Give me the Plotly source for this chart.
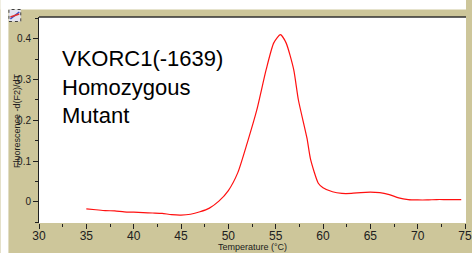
import plotly.graph_objects as go

# Data
temperature = [35, 36, 37, 38, 39, 40, 41, 42, 43, 44, 45, 46, 47, 48, 49, 50,
               51, 52, 53, 54, 54.8, 55.5, 56.1, 56.9, 57.4, 58.3, 58.7, 59.5,
               60, 61, 62, 63, 64, 65, 66, 67, 68, 69, 70, 71, 72, 73, 74, 74.6]
fluorescence = [-0.017, -0.019, -0.021, -0.022, -0.024, -0.025, -0.026, -0.027,
                -0.028, -0.031, -0.032, -0.030, -0.024, -0.015, 0.002, 0.028,
                0.072, 0.145, 0.225, 0.325, 0.39, 0.41, 0.39, 0.325, 0.25,
                0.157, 0.103, 0.046, 0.035, 0.025, 0.021, 0.021, 0.023, 0.024,
                0.023, 0.018, 0.010, 0.006, 0.005, 0.005, 0.006, 0.006, 0.006,
                0.006]
y_tickvals = [0, 0.1, 0.2, 0.3, 0.4]
y_ticktext = ["0", "0.1", "0.2", "0.3", "0.4"]
label_lines = ["VKORC1(-1639)", "Homozygous", "Mutant"]
x_title = "Temperature (°C)"
y_title = "Fluorescence -d(F2)/dT"

KHAKI = "#cdc69a"
NARROW = "Liberation Sans Narrow, Arial Narrow, Liberation Sans, Arial"
W, H = 472, 253
L, R, T, B = 39, 0, 17, 30
pw, ph = W - L - R, H - T - B


def px_x(p):
    return (p - L) / pw


def px_y(p):
    return (H - B - p) / ph


fig = go.Figure()
fig.add_trace(go.Scatter(x=temperature, y=fluorescence, mode="lines",
                         line=dict(color="#ff1010", width=1.2, shape="spline", smoothing=0.6),
                         hoverinfo="skip", showlegend=False))

fig.update_layout(
    width=W, height=H,
    margin=dict(l=L, r=R, t=T, b=B, pad=0),
    paper_bgcolor=KHAKI, plot_bgcolor="white",
    font=dict(family="Liberation Sans, Arial", size=10, color="#202020"),
    xaxis=dict(range=[30, 30 + pw / 9.6], tick0=30, dtick=5, ticks="outside",
               ticklen=5, tickcolor="#202020", showgrid=False, zeroline=False,
               showline=False, tickfont=dict(family=NARROW, size=12),
               ticklabelstandoff=-3, ticklabeloverflow="allow",
               minor=dict(dtick=2.5, ticks="outside", ticklen=3, tickcolor="#202020")),
    yaxis=dict(range=[-0.0515, 0.4534], tickvals=y_tickvals, ticktext=y_ticktext,
               ticks="outside", ticklen=5, tickcolor="#202020", showgrid=False,
               zeroline=False, showline=True, linecolor="#202020", linewidth=1,
               tickfont=dict(family=NARROW, size=10),
               minor=dict(tickvals=[-0.05, 0.05, 0.15, 0.25, 0.35, 0.45], ticks="outside",
                          ticklen=3, tickcolor="#202020")),
)

shapes = [
    # white outer strips (left and top)
    dict(type="rect", xref="paper", yref="paper", x0=px_x(0), x1=px_x(8),
         y0=px_y(H), y1=px_y(0), fillcolor="white", line=dict(width=0), layer="below"),
    dict(type="rect", xref="paper", yref="paper", x0=px_x(0), x1=px_x(W),
         y0=px_y(9.5), y1=px_y(0), fillcolor="white", line=dict(width=0), layer="below"),
    # dark top border of plot
    dict(type="line", xref="paper", yref="paper", x0=0, x1=1, y0=1, y1=1,
         line=dict(color="#303030", width=1.5)),
    # small icon at top-left
    dict(type="rect", xref="paper", yref="paper", x0=px_x(8.5), x1=px_x(20.5),
         y0=px_y(21.5), y1=px_y(9.5), fillcolor="#e4e4f0",
         line=dict(color="#404040", width=1, dash="dot")),
    dict(type="line", xref="paper", yref="paper", x0=px_x(10), x1=px_x(19),
         y0=px_y(19), y1=px_y(12), line=dict(color="#3050d0", width=1.5)),
    dict(type="line", xref="paper", yref="paper", x0=px_x(10), x1=px_x(19),
         y0=px_y(17), y1=px_y(14), line=dict(color="#e03030", width=1.5)),
]
fig.update_layout(shapes=shapes)

fig.add_annotation(text="<br>".join(label_lines), xref="paper", yref="paper",
                   x=px_x(60.5), y=px_y(43.5), xanchor="left", yanchor="top", align="left",
                   showarrow=False, font=dict(family="Liberation Sans, Arial", size=22, color="black"))
fig.add_annotation(text=x_title, xref="paper", yref="paper", x=px_x(256), y=px_y(253),
                   xanchor="center", yanchor="bottom", showarrow=False, borderpad=0,
                   font=dict(size=9))
fig.add_annotation(text=y_title, xref="paper", yref="paper", x=px_x(16.7), y=px_y(121),
                   xanchor="center", yanchor="middle", textangle=-90, showarrow=False,
                   borderpad=0, font=dict(size=9))

fig.write_html(
    "out.html",
    config={"displayModeBar": False},
    post_script="document.body.style.margin='0';document.body.style.overflow='hidden';"
                "document.documentElement.style.overflow='hidden';",
)
